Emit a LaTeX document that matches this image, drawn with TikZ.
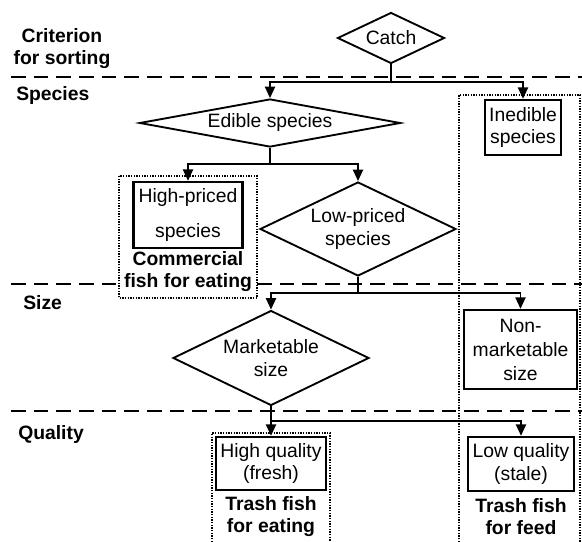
\documentclass[tikz,border=0pt]{standalone}
\usepackage{fontspec}
\setmainfont{Liberation Sans}
\usetikzlibrary{shapes.geometric,arrows.meta}

\begin{document}
\begin{tikzpicture}[x=0.75pt,y=0.75pt,yscale=-1,xscale=1,
  txt/.style={font=\fontsize{14.5}{17}\selectfont,align=center,inner sep=0pt},
  lbl/.style={txt,font=\fontsize{14.5}{17}\selectfont\bfseries},
  choice/.style={txt,draw,diamond,line width=1.4pt},
  bin/.style={txt,draw,rectangle,line width=1.8pt},
  level/.style={line width=1.5pt,dash pattern=on 11pt off 6pt},
  group/.style={line width=1.2pt,dash pattern=on 0.9pt off 1.1pt},
  arr/.style={line width=1.4pt,-{Triangle[width=7.5pt,length=8.5pt]}}]
\useasboundingbox (0,0) rectangle (582,542);

%Straight Lines (level separators)
\draw [level] (11,77) -- (582,77) ;
\draw [level] (11,284) -- (119,284) ;
\draw [level] (257,284) -- (582,284) ;
\draw [level] (11,411) -- (582,411) ;

%Shape: Dotted groups
\draw [group] (119,176) rectangle (257,298) ;
\draw [group] (459,542) |- (580,95) -- (580,542) ;
\draw [group] (212,542) |- (330,433) -- (330,542) ;

%Shape: Diamonds
\node [choice,aspect=2.1,minimum width=80.25pt,minimum height=38.25pt] (catch) at (391,38) {Catch};
\node [choice,aspect=5.4,minimum width=195.75pt,minimum height=36pt] (edible) at (270,123) {Edible species};
\node [choice,aspect=2.1,minimum width=147pt,minimum height=70.5pt] (lowp) at (358,229) {Low-priced\\species};
\node [choice,aspect=2.05,minimum width=147pt,minimum height=71.25pt] (market) at (271,358) {Marketable\\size};

%Shape: Boxes
\node [bin,minimum width=57pt,minimum height=41.25pt] (inedible) at (523,127.5) {Inedible\\species};
\node [bin,minimum width=81.75pt,minimum height=49.5pt] (highp) at (188,215) {High-priced\\[9pt]species};
\node [bin,minimum width=84.75pt,minimum height=59.25pt] (nonmkt) at (520.5,349.5) {Non-\\[1pt]marketable\\[1pt]size};
\node [bin,minimum width=82.5pt,minimum height=39.75pt] (highq) at (271,463.5) {High quality\\(fresh)};
\node [bin,minimum width=79.5pt,minimum height=40.5pt] (lowq) at (521,464) {Low quality\\(stale)};

%Straight Lines (forks)
\coordinate (fork1) at (391,82);
\coordinate (fork2) at (270,164);
\coordinate (fork3) at (358,293);
\coordinate (fork4) at (271,421);
\draw [arr] (catch.south) -- (fork1) -| (edible.north) ;
\draw [arr] (fork1) -| (inedible.north) ;
\draw [arr] (edible.south) -- (fork2) -| (highp.north) ;
\draw [arr] (fork2) -| (lowp.north) ;
\draw [arr] (lowp.south) -- (fork3) -| (market.north) ;
\draw [arr] (fork3) -| (nonmkt.north) ;
\draw [arr] (market.south) -- (fork4) -| (highq.north) ;
\draw [arr] (fork4) -| (lowq.north) ;

% Text Node
\node [lbl] (crit) at (62,48.5) {Criterion\\for sorting};
% Text Node
\node [lbl,anchor=west] (species) at (16,96) {Species};
% Text Node
\node [lbl,anchor=west] (size) at (23,303) {Size};
% Text Node
\node [lbl,anchor=west] (quality) at (18,434) {Quality};
% Text Node
\node [lbl] (commercial) at (188,271.5) {Commercial\\fish for eating};
% Text Node
\node [lbl] (trasheat) at (271,516.5) {Trash fish\\for eating};
% Text Node
\node [lbl] (trashfeed) at (521,516.5) {Trash fish\\for feed};

\end{tikzpicture}
\end{document}
